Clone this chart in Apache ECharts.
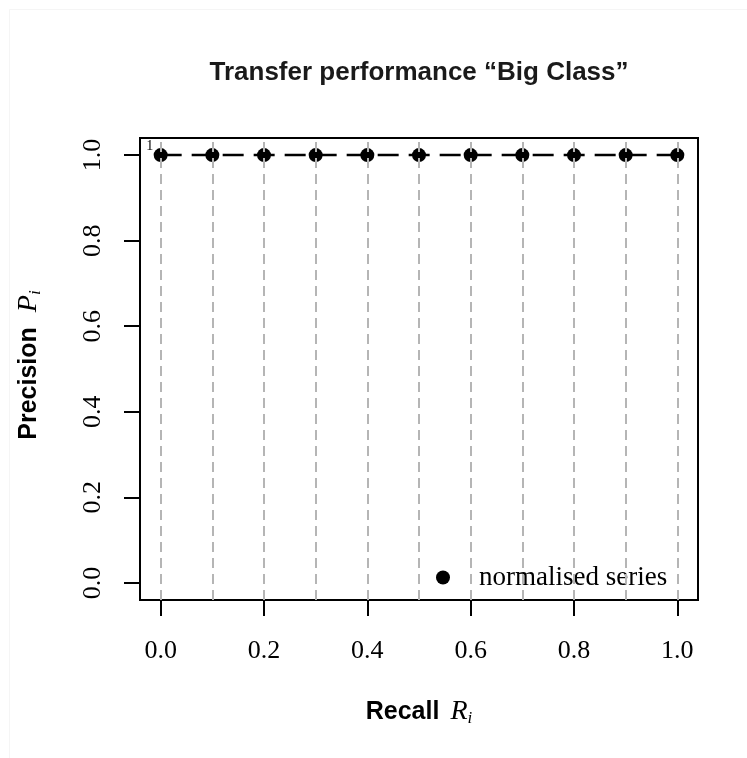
<!DOCTYPE html>
<html>
<head>
<meta charset="utf-8">
<script src="https://cdn.jsdelivr.net/npm/echarts@6/dist/echarts.min.js"></script>
<style>html,body{margin:0;padding:0;background:#fff;}#c{width:747px;height:758px;}</style>
</head>
<body>
<div id="c"></div>
<script>
const recall = [0.0, 0.1, 0.2, 0.3, 0.4, 0.5, 0.6, 0.7, 0.8, 0.9, 1.0];
const precision = [1.0, 1.0, 1.0, 1.0, 1.0, 1.0, 1.0, 1.0, 1.0, 1.0, 1.0];
const pointLabels = ['1', '', '', '', '', '', '', '', '', '', ''];
const xTicks = [0.0, 0.2, 0.4, 0.6, 0.8, 1.0];
const yTicks = [0.0, 0.2, 0.4, 0.6, 0.8, 1.0];
const gridX = [0.0, 0.1, 0.2, 0.3, 0.4, 0.5, 0.6, 0.7, 0.8, 0.9, 1.0];
const seriesName = 'normalised series';
const titleText = 'Transfer performance \u201cBig Class\u201d';

const SERIF = '"Liberation Serif", "DejaVu Serif", serif';
const SANS = '"Liberation Sans", Arial, sans-serif';

const chart = echarts.init(document.getElementById('c'), null, {renderer: 'canvas'});

function makeAxis(ticks, rotate, margin) {
  return {
    type: 'value',
    min: -0.04,
    max: 1.04,
    axisLine: {show: false, onZero: false},
    splitLine: {show: false},
    axisTick: {show: true, inside: false, customValues: ticks, length: 16, lineStyle: {color: '#000', width: 2}},
    axisLabel: {show: true, inside: false, customValues: ticks, rotate: rotate, margin: margin,
      fontFamily: SERIF, fontSize: 26, color: '#000', formatter: v => v.toFixed(1)}
  };
}

function richTitle(gap) {
  return {
    b: {fontFamily: SANS, fontWeight: 'bold', fontSize: 25, color: '#1a1a1a'},
    m: {fontFamily: SERIF, fontStyle: 'italic', fontSize: 28, color: '#1a1a1a', padding: [0, 0, 0, gap]},
    s: {fontFamily: SERIF, fontStyle: 'italic', fontSize: 17, color: '#1a1a1a', padding: [14, 0, 0, 0]}
  };
}

const option = {
  backgroundColor: '#ffffff',
  animation: false,
  grid: {left: 140, right: 49, top: 138, bottom: 158, show: true, borderColor: '#000', borderWidth: 2, backgroundColor: 'transparent'},
  xAxis: makeAxis(xTicks, 0, 38),
  yAxis: makeAxis(yTicks, 90, 34),
  legend: {
    show: true,
    left: 431,
    top: 559,
    itemWidth: 14,
    itemHeight: 14,
    data: [{name: seriesName, icon: 'circle'}],
    textStyle: {fontFamily: SERIF, fontSize: 27, color: '#000', padding: [0, 0, 0, 24]}
  },
  graphic: [
    {type: 'rect', shape: {x: 9.5, y: 9.5, width: 900, height: 900}, style: {fill: null, stroke: '#f5f5f5', lineWidth: 1}, silent: true, z: -10},
    {type: 'text', x: 419, y: 73, style: {text: titleText, font: 'bold 26px ' + SANS, fill: '#1a1a1a', textAlign: 'center', textVerticalAlign: 'middle'}},
    {type: 'text', x: 419, y: 712, style: {text: '{b|Recall}{m|R}{s|i}', rich: richTitle(11), textAlign: 'center', textVerticalAlign: 'middle'}},
    {type: 'text', x: 29, y: 365, rotation: Math.PI / 2, style: {text: '{b|Precision}{m|P}{s|i}', rich: richTitle(15), textAlign: 'center', textVerticalAlign: 'middle'}}
  ],
  series: [
    {
      type: 'line',
      name: '__grid',
      data: [],
      silent: true,
      z: 1,
      markLine: {
        silent: true,
        symbol: ['none', 'none'],
        label: {show: false},
        lineStyle: {color: '#b5b5b5', width: 2, type: [10, 6]},
        data: gridX.map(v => ({xAxis: v}))
      }
    },
    {
      type: 'line',
      name: seriesName,
      data: recall.map((r, i) => ({value: [r, precision[i]], label: {show: pointLabels[i] !== '', formatter: pointLabels[i]}})),
      symbol: 'circle',
      symbolSize: 14,
      itemStyle: {color: '#000'},
      lineStyle: {color: '#000', width: 2.5, type: [21, 10]},
      z: 3,
      label: {position: [-4, -2], align: 'center', verticalAlign: 'middle', fontFamily: SERIF, fontSize: 14, color: '#000'}
    }
  ]
};

chart.setOption(option);
</script>
</body>
</html>
